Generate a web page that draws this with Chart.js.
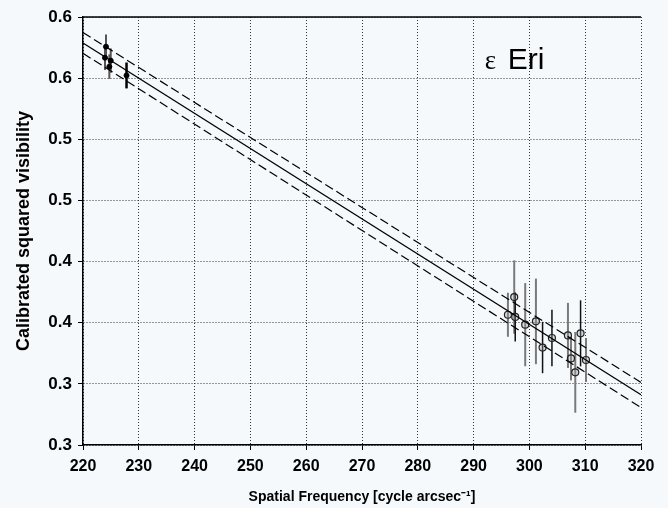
<!DOCTYPE html>
<html>
<head>
<meta charset="utf-8">
<script src="https://cdn.jsdelivr.net/npm/chart.js@4.4.1/dist/chart.umd.min.js"></script>
<style>
  html, body { margin: 0; padding: 0; background: #f5f9fc; }
  #wrap { width: 668px; height: 508px; }
</style>
</head>
<body>
<div id="wrap"><canvas id="chart" width="668" height="508"></canvas></div>
<script>
'use strict';

// axis ticks
const xTicks = [220, 230, 240, 250, 260, 270, 280, 290, 300, 310, 320];
const yTicks = [0.30, 0.35, 0.40, 0.45, 0.50, 0.55, 0.60, 0.65];
const yTickLabels = ['0.3', '0.3', '0.4', '0.4', '0.5', '0.5', '0.6', '0.6'];

// fitted visibility curve and its +/- 1 sigma envelope
const fitX     = [220, 320];
const fitMid   = [0.6288, 0.3412];
const fitUpper = [0.6373, 0.3512];
const fitLower = [0.6203, 0.3306];

// short baseline measurements
const leftGrayX   = [224.12, 223.94, 224.97, 224.72];
const leftGrayY   = [0.6257, 0.6167, 0.6143, 0.6094];
const leftGrayErr = [0.010, 0.010, 0.010, 0.010];
const leftBlackX   = [227.80];
const leftBlackY   = [0.6022];
const leftBlackErr = [0.0106];

// long baseline measurements
const rightGrayX   = [296.15, 297.28, 299.25, 301.17, 306.91, 307.45, 308.22, 310.14];
const rightGrayY   = [0.4065, 0.4210, 0.3984, 0.4011, 0.3896, 0.3708, 0.3594, 0.3695];
const rightGrayErr = [0.018, 0.030, 0.034, 0.035, 0.0266, 0.018, 0.033, 0.018];
const rightBlackX   = [297.46, 302.36, 304.04, 309.17];
const rightBlackY   = [0.4047, 0.3797, 0.3875, 0.3913];
const rightBlackErr = [0.020, 0.021, 0.023, 0.027];

const BG = '#f5f9fc';
const SANS = '"Liberation Sans", Arial, sans-serif';

const pts = (xs, ys) => xs.map((x, i) => ({ x, y: ys[i] }));

const bgPlugin = {
  id: 'bg',
  beforeDraw(chart) {
    const { ctx, width, height } = chart;
    ctx.save();
    ctx.fillStyle = BG;
    ctx.fillRect(0, 0, width, height);
    ctx.restore();
  },
};

const errorBarPlugin = {
  id: 'errorBars',
  beforeDatasetsDraw(chart) {
    const { ctx, scales: { x, y } } = chart;
    chart.data.datasets.forEach(ds => {
      if (!ds.errors) return;
      ctx.save();
      ctx.strokeStyle = ds.errorColor;
      ctx.lineWidth   = ds.errorWidth;
      ds.data.forEach((p, i) => {
        const px = x.getPixelForValue(p.x);
        ctx.beginPath();
        ctx.moveTo(px, y.getPixelForValue(p.y - ds.errors[i]));
        ctx.lineTo(px, y.getPixelForValue(p.y + ds.errors[i]));
        ctx.stroke();
      });
      ctx.restore();
    });
  },
};

const framePlugin = {
  id: 'frame',
  afterDraw(chart) {
    const { ctx, chartArea: a, scales: { x, y } } = chart;
    ctx.save();
    // solid top edge
    ctx.strokeStyle = '#000';
    ctx.lineWidth = 1.5;
    ctx.beginPath();
    ctx.moveTo(a.left, a.top);
    ctx.lineTo(a.right, a.top);
    ctx.stroke();

    // star label
    const tx = x.getPixelForValue(292.0);
    const ty = y.getPixelForValue(0.6075);
    ctx.fillStyle = '#000';
    ctx.textBaseline = 'alphabetic';
    ctx.font = '27px "Liberation Serif", serif';
    ctx.fillText('ε', tx, ty);
    ctx.font = '30px ' + SANS;
    ctx.fillText('Eri', tx + 23, ty);
    ctx.restore();
  },
};

const lineDs = (data, dash) => ({
  type: 'line',
  data,
  borderColor: '#000',
  borderWidth: 1.2,
  borderDash: dash,
  pointRadius: 0,
  fill: false,
  showLine: true,
});

new Chart(document.getElementById('chart'), {
  type: 'scatter',
  data: {
    datasets: [
      lineDs(pts(fitX, fitUpper), [9, 4]),
      lineDs(pts(fitX, fitMid), []),
      lineDs(pts(fitX, fitLower), [9, 4]),
      {
        data: pts(leftGrayX, leftGrayY),
        errors: leftGrayErr, errorColor: '#555', errorWidth: 2,
        pointRadius: 2.5, backgroundColor: '#000', borderColor: '#000', borderWidth: 1,
      },
      {
        data: pts(leftBlackX, leftBlackY),
        errors: leftBlackErr, errorColor: '#000', errorWidth: 2.5,
        pointRadius: 2.5, backgroundColor: '#000', borderColor: '#000', borderWidth: 1,
      },
      {
        data: pts(rightGrayX, rightGrayY),
        errors: rightGrayErr, errorColor: '#7a7a7a', errorWidth: 2,
        pointRadius: 3.5, backgroundColor: 'rgba(160,160,160,0.35)', borderColor: '#222', borderWidth: 1.2,
      },
      {
        data: pts(rightBlackX, rightBlackY),
        errors: rightBlackErr, errorColor: '#111', errorWidth: 1.5,
        pointRadius: 3.5, backgroundColor: 'rgba(160,160,160,0.35)', borderColor: '#222', borderWidth: 1.2,
      },
    ],
  },
  options: {
    responsive: false,
    animation: false,
    events: [],
    layout: { padding: { top: 17, right: 27, left: 0, bottom: 0 } },
    plugins: {
      legend: { display: false },
      tooltip: { enabled: false },
    },
    scales: {
      x: {
        type: 'linear',
        min: 220,
        max: 320,
        afterBuildTicks: s => { s.ticks = xTicks.map(v => ({ value: v })); },
        afterFit: s => { s.height = 63; },
        ticks: { font: { family: SANS, size: 16, weight: 'bold' }, color: '#000', padding: 7, maxRotation: 0 },
        grid: { color: '#333', lineWidth: 1, tickLength: 5, tickColor: '#000', tickWidth: 1 },
        border: { display: true, color: '#000', width: 1.5, dash: [1, 2] },
        title: {
          display: true,
          text: 'Spatial Frequency [cycle arcsec⁻¹]',
          font: { family: SANS, size: 14, weight: 'bold' },
          color: '#000',
          padding: { top: 4, bottom: 2 },
        },
      },
      y: {
        type: 'linear',
        min: 0.30,
        max: 0.65,
        afterBuildTicks: s => { s.ticks = yTicks.map(v => ({ value: v })); },
        afterFit: s => { s.width = 83; },
        ticks: {
          font: { family: SANS, size: 17, weight: 'bold' },
          color: '#000',
          padding: 6,
          callback: (v, i) => yTickLabels[i],
        },
        grid: { color: '#333', lineWidth: 1, tickLength: 5, tickColor: '#000', tickWidth: 1 },
        border: { display: true, color: '#000', width: 1.5, dash: [1, 2] },
        title: {
          display: true,
          text: 'Calibrated squared visibility',
          font: { family: SANS, size: 18, weight: 'bold' },
          color: '#000',
          padding: { top: 13, bottom: 0 },
        },
      },
    },
  },
  plugins: [bgPlugin, errorBarPlugin, framePlugin],
});
</script>
</body>
</html>
